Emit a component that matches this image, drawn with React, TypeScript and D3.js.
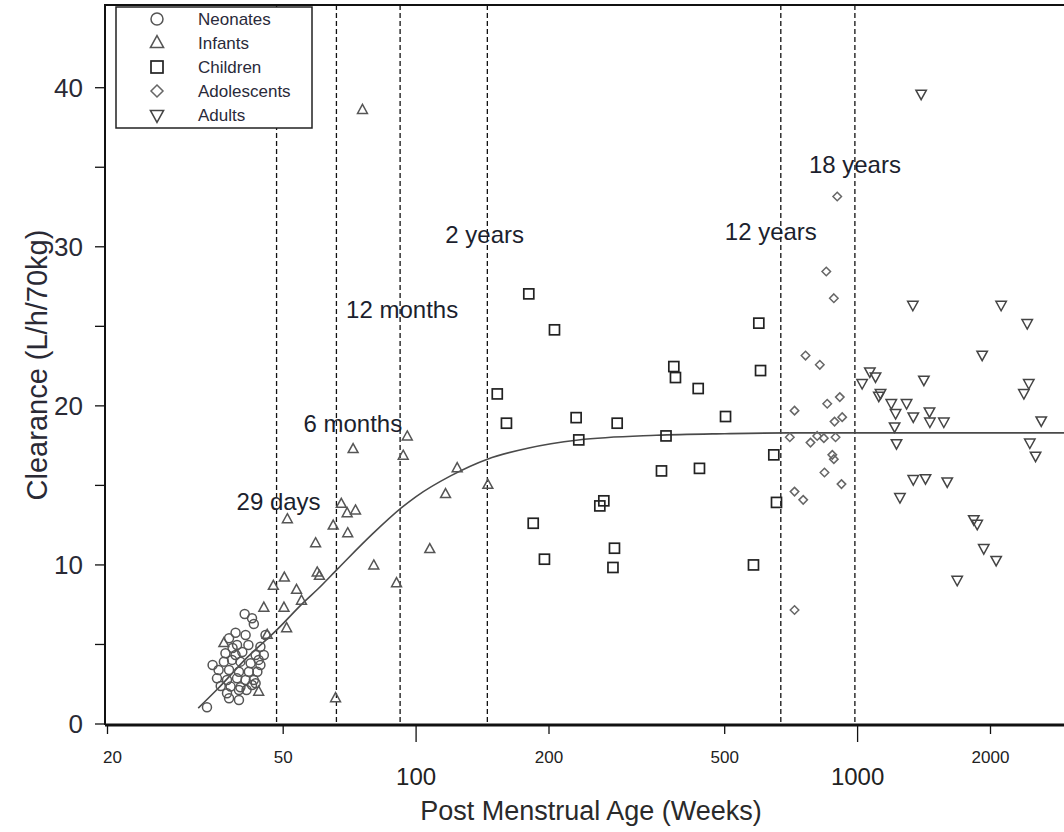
import React from 'react';
import * as d3 from 'd3';

const W = 1064;
const H = 832;

// [post menstrual age (weeks), clearance (L/h/70kg)]
const neonates: [number, number][] = [
  [33.6, 1.05], [40.9, 6.92], [42.5, 6.65], [42.9, 6.29], [39.0, 5.74], [41.1, 5.6],
  [37.7, 5.39], [45.6, 5.6], [39.3, 4.97], [41.7, 4.97], [44.4, 4.86], [37.0, 4.45],
  [39.0, 4.34], [43.3, 4.34], [45.2, 4.34], [36.7, 3.92], [38.3, 4.03], [40.0, 3.92],
  [42.2, 3.82], [44.4, 3.71], [35.7, 3.4], [37.7, 3.4], [39.7, 3.29], [41.8, 3.29],
  [43.7, 3.29], [35.4, 2.87], [37.3, 2.77], [39.3, 2.87], [41.1, 2.77], [42.9, 2.77],
  [36.1, 2.39], [38.0, 2.35], [40.0, 2.31], [42.5, 2.45], [37.3, 1.93], [39.7, 2.14],
  [37.7, 1.62], [39.7, 1.51], [43.3, 2.56], [40.4, 4.53], [38.4, 4.78], [34.6, 3.71],
  [44.0, 4.03], [41.3, 2.14],
];

const infants: [number, number][] = [
  [95.5, 18.07], [72.0, 17.28], [93.5, 16.86], [116.6, 14.45], [51.1, 12.87], [67.7, 13.84],
  [69.8, 13.25], [72.9, 13.42], [64.9, 12.47], [70.0, 11.99], [59.2, 11.36], [107.4, 10.99],
  [80.2, 9.96], [59.7, 9.52], [60.4, 9.31], [90.3, 8.85], [50.3, 9.2], [47.5, 8.68],
  [53.6, 8.43], [50.2, 7.31], [45.2, 7.31], [55.0, 7.75], [50.9, 6.02], [46.0, 5.6],
  [65.7, 1.62], [44.0, 2.03], [75.6, 38.6], [123.9, 16.08], [145.4, 15.03], [36.7, 5.08],
];

const children: [number, number][] = [
  [180.0, 27.04], [205.8, 24.78], [383.5, 22.47], [386.8, 21.78], [435.5, 21.09], [152.7, 20.75],
  [160.2, 18.91], [230.4, 19.26], [285.4, 18.91], [233.6, 17.86], [368.2, 18.11], [359.6, 15.91],
  [438.4, 16.07], [266.2, 14.03], [260.7, 13.71], [184.2, 12.62], [281.4, 11.05], [195.3, 10.36],
  [279.2, 9.84], [602.8, 22.22], [597.4, 25.2], [502.2, 19.33], [646.0, 16.92], [655.1, 13.93],
  [581.0, 10.0],
];

const adolescents: [number, number][] = [
  [899.2, 33.16], [849.3, 28.45], [883.5, 26.77], [762.2, 23.16], [821.1, 22.58], [853.5, 20.13],
  [911.4, 20.55], [719.7, 19.7], [886.7, 19.01], [922.8, 19.29], [702.2, 18.03], [782.2, 17.69],
  [810.1, 18.11], [838.6, 17.97], [891.4, 18.03], [876.4, 16.92], [883.5, 16.65], [841.4, 15.81],
  [919.4, 15.08], [719.7, 14.61], [753.0, 14.09], [719.7, 7.17],
];

const adults: [number, number][] = [
  [1393, 39.62], [1334, 26.35], [2114, 26.35], [2422, 25.2], [1915, 23.21], [1413, 21.64],
  [1066, 22.16], [1098, 21.84], [1024, 21.43], [1127, 20.8], [1117, 20.63], [2442, 21.43],
  [2380, 20.8], [1192, 20.17], [1291, 20.17], [1219, 19.54], [1337, 19.33], [1455, 19.64],
  [1458, 19.01], [1568, 19.01], [1213, 18.7], [2606, 19.08], [1225, 17.65], [2455, 17.69],
  [2530, 16.86], [1337, 15.39], [1425, 15.45], [1596, 15.24], [1247, 14.26], [1833, 12.87],
  [1866, 12.58], [1931, 11.05], [2060, 10.31], [1681, 9.06],
];

// maturation model curve
const fitCurve: [number, number][] = [
  [32.1, 1.0], [35.5, 2.2], [41.5, 4.2], [48.3, 5.9], [55.4, 7.6], [60, 8.5], [66.4, 9.75],
  [80, 12.0], [92.7, 13.6], [100, 14.3], [119.7, 15.6], [145, 16.65], [180, 17.35], [233, 17.85],
  [350, 18.15], [500, 18.25], [700, 18.3], [3000, 18.3],
];

const milestones = [48.3, 66, 92, 145, 670, 986];
const milestoneLabels = ['29 days', '6 months', '12 months', '2 years', '12 years', '18 years'];

const xTicks = [20, 50, 100, 200, 500, 1000, 2000];
const xBigTicks = [100, 1000];
const yTicks = [0, 5, 10, 15, 20, 25, 30, 35, 40];
const yLabelTicks = [0, 10, 20, 30, 40];

const legendNames = ['Neonates', 'Infants', 'Children', 'Adolescents', 'Adults'];

const FONT = '"Liberation Sans", Arial, Helvetica, sans-serif';
const NARROW = '"Liberation Sans Narrow", "Arial Narrow", "Liberation Sans", Arial, sans-serif';

// label placement relative to each dashed line: [dx, baseline y]
const labelLayout: [number, number][] = [
  [-40, 510], [-33, 432], [-54, 318], [-42, 243], [-56, 240], [-46, 173],
];

const x = d3.scaleLog().domain([20, 3000]).range([107.5, 107.5 + 441.5 * Math.log10(150)]);
const y = d3.scaleLinear().domain([0, 45.2]).range([724, 5]);

const triUp = (s: number) => `M0,${-s * 0.62}L${s * 0.55},${s * 0.38}L${-s * 0.55},${s * 0.38}Z`;
const triDown = (s: number) => `M0,${s * 0.62}L${s * 0.55},${-s * 0.38}L${-s * 0.55},${-s * 0.38}Z`;
const diamond = (s: number) => `M0,${-s / 2}L${s / 2},0L0,${s / 2}L${-s / 2},0Z`;

function Marker({ kind, size }: { kind: number; size: number }) {
  if (kind === 0) return <circle r={size / 2} fill="none" stroke="#555" strokeWidth={1.5} />;
  if (kind === 1) return <path d={triUp(size)} fill="none" stroke="#555" strokeWidth={1.5} />;
  if (kind === 2)
    return <rect x={-size / 2} y={-size / 2} width={size} height={size} fill="none" stroke="#222" strokeWidth={1.7} />;
  if (kind === 3) return <path d={diamond(size)} fill="none" stroke="#666" strokeWidth={1.5} />;
  return <path d={triDown(size)} fill="none" stroke="#444" strokeWidth={1.5} />;
}

const groups = [neonates, infants, children, adolescents, adults];
const markerSize = [9, 9, 10, 8.5, 9.5];

export default function App() {
  const line = d3
    .line<[number, number]>()
    .x((d) => x(d[0]))
    .y((d) => y(d[1]))
    .curve(d3.curveMonotoneX);

  const left = 105;
  const bottom = y(0);

  return (
    <svg
      width={W}
      height={H}
      style={{ position: 'absolute', left: 0, top: 0, background: '#fff' }}
      fontFamily={FONT}
    >
      {/* milestone dashed lines */}
      {milestones.map((m, i) => (
        <line key={i} x1={x(m)} x2={x(m)} y1={5} y2={bottom} stroke="#111" strokeWidth={1.3} strokeDasharray="5,3" />
      ))}

      {/* fitted curve */}
      <path d={line(fitCurve) || ''} fill="none" stroke="#4a4a4a" strokeWidth={1.6} />

      {/* data points */}
      {groups.map((g, gi) =>
        g.map((d, i) => (
          <g key={`${gi}-${i}`} transform={`translate(${x(d[0])},${y(d[1])})`}>
            <Marker kind={gi} size={markerSize[gi]} />
          </g>
        ))
      )}

      {/* milestone labels */}
      {milestoneLabels.map((t, i) => (
        <text key={t} x={x(milestones[i]) + labelLayout[i][0]} y={labelLayout[i][1]} fontSize={24} fill="#1c1f2e">
          {t}
        </text>
      ))}

      {/* frame */}
      <line x1={left} x2={W} y1={5} y2={5} stroke="#111" strokeWidth={2} />
      <line x1={left} x2={left} y1={4} y2={bottom + 1} stroke="#111" strokeWidth={2} />
      <line x1={left} x2={W} y1={bottom + 1} y2={bottom + 1} stroke="#111" strokeWidth={3} />

      {/* y axis */}
      {yTicks.map((t) => (
        <line key={t} x1={95} x2={left} y1={y(t)} y2={y(t)} stroke="#111" strokeWidth={1.3} />
      ))}
      {yLabelTicks.map((t) => (
        <text key={t} x={83} y={y(t)} dy="0.36em" textAnchor="end" fontSize={26} fill="#2a2a35">
          {t}
        </text>
      ))}

      {/* x axis */}
      {xTicks.map((t) => {
        const big = xBigTicks.includes(t);
        return (
          <g key={t} transform={`translate(${x(t)},0)`}>
            <line y1={bottom} y2={bottom + (big ? 18 : 10)} stroke="#111" strokeWidth={1.3} />
            <text
              x={t === 20 ? 5 : 0}
              y={big ? 785 : 763}
              textAnchor="middle"
              fontFamily={NARROW}
              fontSize={big ? 24 : 17}
              fill="#222"
            >
              {t}
            </text>
          </g>
        );
      })}

      <text x={591} y={820} textAnchor="middle" fontSize={27} fill="#2a2a2a">
        Post Menstrual Age (Weeks)
      </text>
      <text transform="translate(47,365) rotate(-90)" textAnchor="middle" fontSize={29} fill="#2a2a35">
        Clearance (L/h/70kg)
      </text>

      {/* legend */}
      <rect x={116} y={7} width={196} height={121} fill="#fff" stroke="#222" strokeWidth={1.5} />
      {legendNames.map((n, i) => (
        <g key={n} transform={`translate(0,${19 + i * 24})`}>
          <g transform="translate(157,0)">
            <Marker kind={i} size={12} />
          </g>
          <text x={198} y={0} dy="0.36em" fontSize={17} fill="#2a2a3a">
            {n}
          </text>
        </g>
      ))}
    </svg>
  );
}
